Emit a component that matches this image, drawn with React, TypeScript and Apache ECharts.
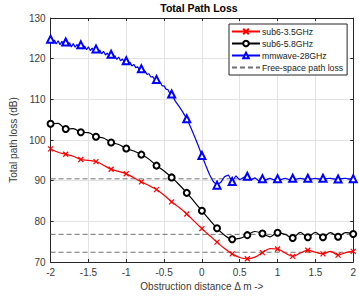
import React, { useEffect, useRef } from "react";
import * as echarts from "echarts";

// sub6-3.5GHz (x in m, total path loss in dB)
const sub35: [number, number][] = [
  [-2.0, 97.8], [-1.9, 97.0], [-1.8, 96.5], [-1.7, 96.0], [-1.6, 95.2], [-1.5, 95.0],
  [-1.4, 94.7], [-1.3, 93.8], [-1.2, 92.8], [-1.1, 92.3], [-1.0, 91.7], [-0.9, 90.7],
  [-0.8, 89.7], [-0.7, 88.8], [-0.6, 87.8], [-0.5, 86.4], [-0.4, 84.8], [-0.3, 83.4],
  [-0.2, 81.8], [-0.1, 80.0], [0.0, 78.2], [0.1, 76.5], [0.2, 74.9], [0.3, 73.3],
  [0.4, 72.0], [0.5, 71.1], [0.6, 70.8], [0.7, 71.2], [0.8, 72.3], [0.9, 73.3],
  [1.0, 73.2], [1.1, 72.2], [1.2, 71.4], [1.3, 72.2], [1.4, 72.9], [1.5, 72.4],
  [1.6, 72.0], [1.7, 72.6], [1.8, 71.7], [1.9, 72.3], [2.0, 72.6],
];

// sub6-5.8GHz
const sub58: [number, number][] = [
  [-2.0, 104.0], [-1.9, 104.1], [-1.8, 102.7], [-1.7, 102.8], [-1.6, 101.9], [-1.5, 101.8],
  [-1.4, 100.8], [-1.3, 100.5], [-1.2, 99.4], [-1.1, 98.9], [-1.0, 97.9], [-0.9, 97.3],
  [-0.8, 96.4], [-0.7, 95.3], [-0.6, 93.7], [-0.5, 92.4], [-0.4, 90.8], [-0.3, 89.0],
  [-0.2, 87.0], [-0.1, 84.8], [0.0, 82.6], [0.1, 80.4], [0.2, 78.3], [0.3, 76.6],
  [0.4, 75.6], [0.5, 75.8], [0.6, 76.6], [0.7, 77.5], [0.8, 77.0], [0.9, 76.2],
  [1.0, 77.2], [1.1, 76.8], [1.2, 75.9], [1.3, 77.3], [1.4, 76.1], [1.5, 77.3],
  [1.6, 76.1], [1.7, 77.2], [1.8, 76.2], [1.9, 77.2], [2.0, 76.9],
];

// mmwave-28GHz
const mmwave: [number, number][] = [
  [-2.0, 124.8], [-1.975, 123.8], [-1.95, 124.6], [-1.925, 123.6], [-1.9, 124.4], [-1.875, 123.4],
  [-1.85, 124.3], [-1.825, 123.3], [-1.8, 124.1], [-1.775, 123.1], [-1.75, 123.9], [-1.725, 122.9],
  [-1.7, 123.7], [-1.675, 122.8], [-1.65, 123.5], [-1.625, 122.6], [-1.6, 123.4], [-1.575, 122.4],
  [-1.55, 123.1], [-1.525, 122.2], [-1.5, 122.9], [-1.475, 122.0], [-1.45, 122.6], [-1.425, 121.7],
  [-1.4, 122.4], [-1.375, 121.5], [-1.35, 122.1], [-1.325, 121.2], [-1.3, 121.8], [-1.275, 120.9],
  [-1.25, 121.4], [-1.225, 120.5], [-1.2, 121.1], [-1.175, 120.2], [-1.15, 120.7], [-1.125, 119.8],
  [-1.1, 120.4], [-1.075, 119.5], [-1.05, 119.9], [-1.025, 119.1], [-1.0, 119.5], [-0.975, 118.7],
  [-0.95, 119.1], [-0.925, 118.2], [-0.9, 118.6], [-0.875, 117.8], [-0.85, 118.0], [-0.825, 117.3],
  [-0.8, 117.5], [-0.775, 116.7], [-0.75, 116.9], [-0.725, 116.1], [-0.7, 116.3], [-0.675, 115.5],
  [-0.65, 115.6], [-0.625, 114.8], [-0.6, 114.9], [-0.575, 114.1], [-0.55, 114.2], [-0.525, 113.3],
  [-0.5, 113.3], [-0.475, 112.5], [-0.45, 112.4], [-0.425, 111.5], [-0.4, 111.3],
  [-0.35, 109.5], [-0.3, 108.2], [-0.25, 106.8], [-0.2, 105.2], [-0.15, 103.2], [-0.1, 101.0],
  [-0.05, 98.7], [0.0, 96.2], [0.05, 93.8], [0.1, 91.5], [0.15, 89.8], [0.2, 88.9],
  [0.25, 89.6], [0.3, 91.0], [0.35, 91.4], [0.4, 89.8], [0.45, 91.2], [0.5, 90.2],
  [0.55, 90.8], [0.6, 91.1], [0.65, 90.2], [0.7, 90.7], [0.75, 90.0], [0.8, 90.5],
  [0.85, 90.2], [0.9, 90.6], [0.95, 90.2], [1.0, 90.5], [1.05, 90.3], [1.1, 90.6],
  [1.15, 90.3], [1.2, 90.6], [1.25, 90.4], [1.3, 90.6], [1.35, 90.4], [1.4, 90.6],
  [1.45, 90.4], [1.5, 90.6], [1.55, 90.4], [1.6, 90.6], [1.65, 90.5], [1.7, 90.6],
  [1.75, 90.4], [1.8, 90.4], [1.85, 90.5], [1.9, 90.6], [1.95, 90.4], [2.0, 90.5],
];

// Free-space path loss levels (dB) for 3.5, 5.8 and 28 GHz
const freeSpace: number[] = [72.4, 76.8, 90.45];
const xRange: [number, number] = [-2, 2];

const seriesNames = ["sub6-3.5GHz", "sub6-5.8GHz", "mmwave-28GHz", "Free-space path loss"];

const isMarker = (x: number) => Math.abs(x * 5 - Math.round(x * 5)) < 1e-6;
const toData = (pts: [number, number][]) =>
  pts.map(([x, y]) => (isMarker(x) ? [x, y] : { value: [x, y], symbol: "none" }));

export default function App() {
  const ref = useRef<HTMLDivElement>(null);
  useEffect(() => {
    if (!ref.current) return;
    const chart = echarts.init(ref.current, undefined, { renderer: "svg" });
    const axisColor = "#262626";
    const labelColor = "#3a3a3a";
    const font = "Liberation Sans, Arial, sans-serif";
    const fsSeries = freeSpace.map((v) => ({
      name: seriesNames[3],
      type: "line",
      data: [
        [xRange[0], v],
        [xRange[1], v],
      ],
      symbol: "none",
      lineStyle: { color: "#707070", width: 1, type: [5, 3] },
      itemStyle: { color: "#707070" },
      z: 1,
    }));
    chart.setOption({
      animation: false,
      backgroundColor: "#ffffff",
      textStyle: { fontFamily: font },
      title: {
        text: "Total Path Loss",
        left: 199,
        textAlign: "center",
        top: 2,
        padding: 0,
        textStyle: { fontSize: 10.5, fontWeight: "bold", color: "#000", fontFamily: font },
      },
      grid: { left: 44, right: 5, top: 18, bottom: 42, containLabel: false },
      legend: {
        data: [
          seriesNames[0],
          seriesNames[1],
          seriesNames[2],
          { name: seriesNames[3], itemStyle: { opacity: 0 } },
        ],
        orient: "vertical",
        left: 229,
        top: 24,
        padding: [3, 4, 3, 2],
        itemWidth: 28,
        itemHeight: 7,
        itemGap: 3,
        backgroundColor: "#ffffff",
        borderColor: axisColor,
        borderWidth: 1,
        borderRadius: 0,
        textStyle: { fontSize: 8.7, color: "#222", fontFamily: font, padding: [0, 0, 0, -3] },
      },
      xAxis: [
        {
          type: "value",
          min: -2,
          max: 2,
          interval: 0.5,
          name: "Obstruction distance \u0394 m ->",
          nameLocation: "middle",
          nameGap: 19,
          nameTextStyle: { fontSize: 10, color: labelColor, fontFamily: font },
          axisLine: { show: true, lineStyle: { color: axisColor, width: 1 } },
          axisTick: { show: true, inside: true, length: 3, lineStyle: { color: axisColor } },
          axisLabel: { fontSize: 10, color: labelColor, margin: 5, fontFamily: font },
          splitLine: { show: true, lineStyle: { color: "#e3e3e3", width: 1 } },
        },
        {
          type: "value",
          position: "top",
          min: -2,
          max: 2,
          interval: 0.5,
          axisLine: { show: true, onZero: false, lineStyle: { color: axisColor, width: 1 } },
          axisTick: { show: true, inside: true, length: 3, lineStyle: { color: axisColor } },
          axisLabel: { show: false },
          splitLine: { show: false },
        },
      ],
      yAxis: [
        {
          type: "value",
          min: 70,
          max: 130,
          interval: 10,
          name: "Total path loss (dB)",
          nameLocation: "middle",
          nameGap: 25,
          nameTextStyle: { fontSize: 10, color: labelColor, fontFamily: font },
          axisLine: { show: true, onZero: false, lineStyle: { color: axisColor, width: 1 } },
          axisTick: { show: true, inside: true, length: 3, lineStyle: { color: axisColor } },
          axisLabel: { fontSize: 10, color: labelColor, margin: 5, fontFamily: font },
          splitLine: { show: true, lineStyle: { color: "#e3e3e3", width: 1 } },
        },
        {
          type: "value",
          position: "right",
          min: 70,
          max: 130,
          interval: 10,
          axisLine: { show: true, onZero: false, lineStyle: { color: axisColor, width: 1 } },
          axisTick: { show: true, inside: true, length: 3, lineStyle: { color: axisColor } },
          axisLabel: { show: false },
          splitLine: { show: false },
        },
      ],
      series: [
        {
          name: seriesNames[0],
          type: "line",
          data: toData(sub35),
          smooth: 0.35,
          symbol: "path://M0,0L10,10M10,0L0,10",
          symbolSize: 5,
          showAllSymbol: true,
          lineStyle: { color: "#ff0000", width: 1.2 },
          itemStyle: { color: "#ff0000", borderColor: "#ff0000", borderWidth: 1.2 },
          z: 3,
        },
        {
          name: seriesNames[1],
          type: "line",
          data: toData(sub58),
          smooth: 0.35,
          symbol: "emptyCircle",
          symbolSize: 6,
          showAllSymbol: true,
          lineStyle: { color: "#000000", width: 1.2 },
          itemStyle: { color: "#000000", borderColor: "#000000", borderWidth: 1 },
          z: 3,
        },
        {
          name: seriesNames[2],
          type: "line",
          data: toData(mmwave),
          smooth: false,
          symbol: "emptyTriangle",
          symbolSize: 7,
          showAllSymbol: true,
          lineStyle: { color: "#0000ff", width: 1.2 },
          itemStyle: { color: "#0000ff", borderColor: "#0000ff", borderWidth: 1 },
          z: 3,
        },
        ...fsSeries,
      ],
    });
    return () => chart.dispose();
  }, []);
  return (
    <div
      ref={ref}
      style={{ position: "fixed", left: 0, top: 0, width: 359, height: 304 }}
    />
  );
}
